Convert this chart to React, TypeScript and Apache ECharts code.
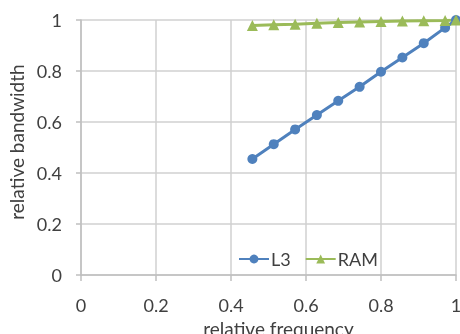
import React, { useEffect, useRef } from "react";
import * as echarts from "echarts";

const frequency = [0.457, 0.514, 0.571, 0.629, 0.686, 0.743, 0.8, 0.857, 0.914, 0.971, 1.0];
const l3Bandwidth = [0.455, 0.513, 0.571, 0.627, 0.683, 0.738, 0.797, 0.853, 0.909, 0.97, 1.0];
const ramBandwidth = [0.978, 0.981, 0.983, 0.987, 0.99, 0.992, 0.994, 0.996, 0.997, 0.998, 1.0];

const FONT = "Lato";
const TXT = "#404040";

export default function App() {
  const ref = useRef<HTMLDivElement>(null);
  useEffect(() => {
    if (!ref.current) return;
    const chart = echarts.init(ref.current, null, { renderer: "svg" });
    chart.setOption({
      animation: false,
      textStyle: { fontFamily: FONT },
      grid: { left: 81, right: 4, top: 20, bottom: 59, containLabel: false, outerBoundsMode: "none" },
      legend: {
        left: 238,
        top: 250,
        padding: 0,
        itemWidth: 30,
        itemHeight: 11,
        itemGap: 14,
        textStyle: { fontFamily: FONT, fontSize: 18, color: TXT, padding: [0, 0, 0, -3] },
        data: ["L3", "RAM"],
      },
      xAxis: {
        type: "value",
        min: 0,
        max: 1,
        interval: 0.2,
        name: "relative frequency",
        nameLocation: "middle",
        nameGap: 30,
        nameTextStyle: { fontFamily: FONT, fontSize: 19, color: TXT, padding: [0, 0, 0, 20] },
        axisLine: { show: true, lineStyle: { color: "#bfbfbf", width: 1.5 } },
        axisTick: { show: true, length: 6, lineStyle: { color: "#bfbfbf", width: 1.5 } },
        axisLabel: { fontFamily: FONT, fontSize: 18, color: TXT, margin: 21 },
        splitLine: { show: true, lineStyle: { color: "#d0d0d0", width: 1.5 } },
      },
      yAxis: {
        type: "value",
        min: 0,
        max: 1,
        interval: 0.2,
        name: "relative bandwidth",
        nameLocation: "middle",
        nameGap: 46,
        nameTextStyle: { fontFamily: FONT, fontSize: 19, color: TXT, padding: [0, 0, 0, 11] },
        axisLine: { show: true, lineStyle: { color: "#bfbfbf", width: 1.5 } },
        axisTick: { show: true, length: 5, lineStyle: { color: "#bfbfbf", width: 1.5 } },
        axisLabel: { fontFamily: FONT, fontSize: 18, color: TXT, margin: 19 },
        splitLine: { show: true, lineStyle: { color: "#d0d0d0", width: 1.5 } },
      },
      series: [
        {
          name: "L3",
          type: "line",
          data: frequency.map((f, i) => [f, l3Bandwidth[i]]),
          symbol: "circle",
          symbolSize: 10,
          lineStyle: { color: "#4f81bd", width: 3 },
          itemStyle: { color: "#4f81bd" },
        },
        {
          name: "RAM",
          type: "line",
          data: frequency.map((f, i) => [f, ramBandwidth[i]]),
          symbol: "triangle",
          symbolSize: 11,
          lineStyle: { color: "#9bbb59", width: 3 },
          itemStyle: { color: "#9bbb59" },
        },
      ],
    });
    return () => chart.dispose();
  }, []);
  return (
    <div
      ref={ref}
      style={{ position: "fixed", left: 0, top: 0, width: 460, height: 334 }}
    />
  );
}
